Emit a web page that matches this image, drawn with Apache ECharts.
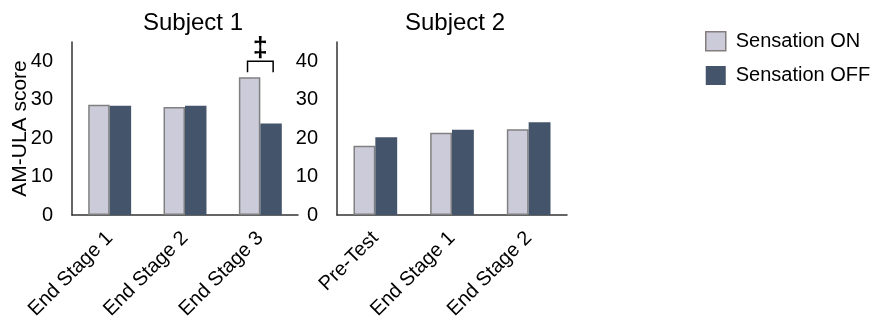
<!DOCTYPE html>
<html><head><meta charset="utf-8">
<script src="https://cdn.jsdelivr.net/npm/echarts@6/dist/echarts.min.js"></script>
<style>html,body{margin:0;padding:0;background:#fff}#c{width:874px;height:325px}</style>
</head><body><div id="c"></div>
<script>
const subjects = ['Subject 1', 'Subject 2'];
const categories1 = ['End Stage 1', 'End Stage 2', 'End Stage 3'];
const categories2 = ['Pre-Test', 'End Stage 1', 'End Stage 2'];
const onValues1 = [28.7, 28.1, 35.8];
const offValues1 = [28.4, 28.4, 23.8];
const onValues2 = [18.0, 21.4, 22.3];
const offValues2 = [20.2, 22.2, 24.1];
const yTicks = [0, 10, 20, 30, 40];
const yMax = 45;
// significance bracket: category index, bracket top value, leg bottom value, marker value
const sigCategory = 2;
const sigTop = 40;
const sigLeg = 37.1;
const sigMark = 43.4;
const sigText = '‡';

const FONT = 'Liberation Sans, Arial, sans-serif';
const ON_COLOR = '#cccbda';
const ON_BORDER = '#808080';
const OFF_COLOR = '#44546a';
const AXIS_COLOR = '#333333';

const chart = echarts.init(document.getElementById('c'), null, {renderer: 'canvas'});

function xAxis(idx, cats) {
  return {
    type: 'category', gridIndex: idx, data: cats,
    axisLine: {lineStyle: {color: AXIS_COLOR, width: 1.5}},
    axisTick: {show: false},
    axisLabel: {rotate: 45, fontSize: 20, color: '#000', fontFamily: FONT, margin: 20, interval: 0}
  };
}
function yAxis(idx, withName) {
  return {
    type: 'value', gridIndex: idx, min: 0, max: yMax, interval: 10,
    name: withName ? 'AM-ULA score' : '', nameLocation: 'middle', nameGap: 41,
    nameMoveOverlap: false,
    nameTextStyle: {fontSize: 21, color: '#000', fontFamily: FONT},
    axisLine: {show: true, lineStyle: {color: AXIS_COLOR, width: 1.5}},
    axisTick: {show: false},
    splitLine: {show: false},
    axisLabel: {fontSize: 20, color: '#000', fontFamily: FONT, margin: 19,
      formatter: v => yTicks.indexOf(v) >= 0 ? String(v) : ''}
  };
}
function bars(name, idx, data, on) {
  return {
    name: name, type: 'bar', xAxisIndex: idx, yAxisIndex: idx, data: data,
    barGap: '0%', barCategoryGap: '43%',
    itemStyle: on ? {color: ON_COLOR, borderColor: ON_BORDER, borderWidth: 1.5}
                  : {color: OFF_COLOR, borderColor: OFF_COLOR, borderWidth: 0},
    emphasis: {disabled: true}
  };
}

chart.setOption({
  animation: false,
  backgroundColor: '#fff',
  title: [
    {text: subjects[0], left: 188, textAlign: 'center', top: 6, textStyle: {fontSize: 24, fontWeight: 'normal', color: '#000', fontFamily: FONT}},
    {text: subjects[1], left: 450, textAlign: 'center', top: 6, textStyle: {fontSize: 24, fontWeight: 'normal', color: '#000', fontFamily: FONT}}
  ],
  legend: {
    orient: 'vertical', left: 700, top: 26, itemWidth: 20, itemHeight: 19, itemGap: 14,
    icon: 'rect',
    textStyle: {fontSize: 20, color: '#000', fontFamily: FONT, padding: [0, 0, 0, 5]},
    data: [
      {name: 'Sensation ON', itemStyle: {color: ON_COLOR, borderColor: '#857c7c', borderWidth: 1.5}},
      {name: 'Sensation OFF', itemStyle: {color: OFF_COLOR}}
    ]
  },
  grid: [
    {left: 72, top: 42, width: 226, height: 173},
    {left: 337, top: 42, width: 230, height: 173}
  ],
  xAxis: [xAxis(0, categories1), xAxis(1, categories2)],
  yAxis: [yAxis(0, true), yAxis(1, false)],
  series: [
    bars('Sensation ON', 0, onValues1, true),
    bars('Sensation OFF', 0, offValues1, false),
    bars('Sensation ON', 1, onValues2, true),
    bars('Sensation OFF', 1, offValues2, false),
    {
      type: 'custom', xAxisIndex: 0, yAxisIndex: 0, clip: false, silent: true,
      data: [[sigCategory, sigTop, sigLeg, sigMark]],
      renderItem: function (params, api) {
        const c = api.coord([api.value(0), api.value(1)]);
        const leg = api.coord([api.value(0), api.value(2)]);
        const mk = api.coord([api.value(0), api.value(3)]);
        const band = api.size([1, 0])[0];
        const hw = band * 0.17;
        return {
          type: 'group', children: [
            {type: 'polyline', shape: {points: [[c[0] - hw, leg[1]], [c[0] - hw, c[1]], [c[0] + hw, c[1]], [c[0] + hw, leg[1]]]},
             style: {stroke: '#000', lineWidth: 1.5, fill: null}},
            {type: 'text', x: c[0], y: mk[1], style: {text: sigText, fontSize: 27, fontWeight: 'bold', fontFamily: FONT, fill: '#000', align: 'center', verticalAlign: 'middle'}}
          ]
        };
      }
    }
  ]
});
</script></body></html>
